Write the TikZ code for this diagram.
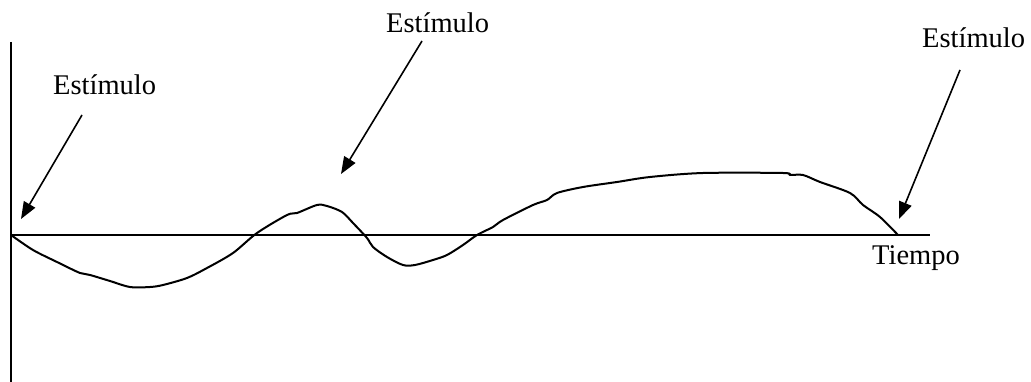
\documentclass[tikz,border=0pt]{standalone}
\usepackage{fontspec}
\setmainfont{Liberation Serif}
\usetikzlibrary{arrows.meta}
\tikzset{
 axis/.style={line width=2pt},
 response/.style={line width=2pt,line join=round},
 pointer/.style={line width=1.6pt,-{Triangle[length=17pt,width=13pt]}},
 tag/.style={inner sep=0,font=\fontsize{28.5}{30}\selectfont}
}
\begin{document}
\begin{tikzpicture}[x=1pt,y=-1pt]
\path[use as bounding box] (0,0) rectangle (1031,382);
\coordinate (O) at (11,235);
\coordinate (Ytop) at (11,42);
\coordinate (Ybot) at (11,382);
\coordinate (Xend) at (930,235);
\draw[axis] (Ytop) -- (Ybot);
\draw[axis] (O) -- (Xend);
\node[tag,anchor=base west] (tiempo) at (872,265) {Tiempo};
\draw[response] plot[smooth,tension=0.5] coordinates {
 (11,235) (33,250) (57,262) (80,273) (90,275) (110,281) (130,287) (150,287)
 (163,285) (187,278) (207,268) (233,253) (257,233) (287,215) (297,213)
 (317,205) (327,206) (342,212) (353,223) (367,238) (373,247) (387,257)
 (403,265) (415,265) (433,260) (447,255) (463,245) (477,235) (493,227)
 (503,220) (533,205) (547,200) (557,193) (583,187) (617,182) (650,177)
 (703,173) (783,173) (790,175) (803,175) (820,182) (850,193) (863,205)
 (880,217) (898,235)};
% estimulos
\node[tag,anchor=base west] (est1) at (53,95) {Estímulo};
\node[tag,anchor=base west] (est2) at (386,33) {Estímulo};
\node[tag,anchor=base west] (est3) at (922,48) {Estímulo};
\coordinate (from1) at (82,115);
\coordinate (to1) at (21,219);
\coordinate (from2) at (422,41);
\coordinate (to2) at (341,174);
\coordinate (from3) at (960,70);
\coordinate (to3) at (899,219);
\draw[pointer] (from1) -- (to1);
\draw[pointer] (from2) -- (to2);
\draw[pointer] (from3) -- (to3);
\end{tikzpicture}
\end{document}
